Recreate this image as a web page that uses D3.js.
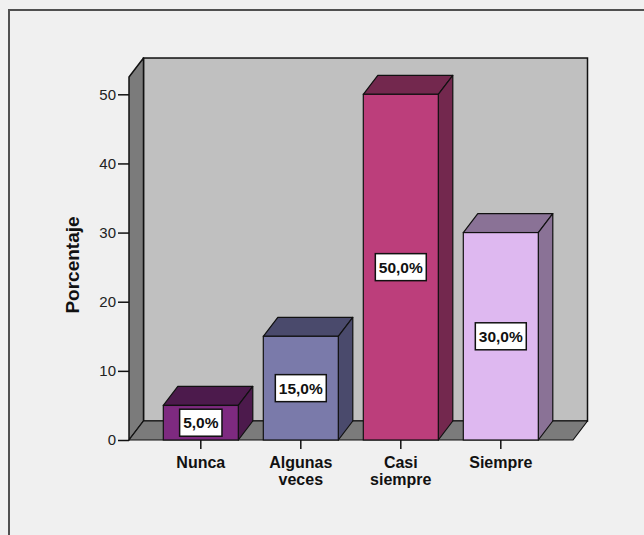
<!DOCTYPE html>
<html>
<head>
<meta charset="utf-8">
<script src="https://cdn.jsdelivr.net/npm/d3@7/dist/d3.min.js"></script>
<style>
  html, body { margin: 0; padding: 0; background: #f0f0f0; }
  svg { display: block; }
  text { font-family: "Liberation Sans", Arial, sans-serif; }
</style>
</head>
<body>
<svg id="chart" width="644" height="535"></svg>
<script>
// Response categories and their percentages
const categories = ["Nunca", "Algunas veces", "Casi siempre", "Siempre"];
const percentages = [5, 15, 50, 30];
const yTicks = [0, 10, 20, 30, 40, 50];
const frontColors = ["#7e2a80", "#7a7aaa", "#bc3e7b", "#deb8f0"];
const sideColors  = ["#4c1a4c", "#4a4a6c", "#73284e", "#8a7296"];
const yTitle = "Porcentaje";

const svg = d3.select("#chart");
const W = 644, H = 535;

// Outer panel frame
svg.append("rect").attr("x", 0).attr("y", 0).attr("width", W).attr("height", H).attr("fill", "#f0f0f0");
svg.append("path")
  .attr("d", `M9,${H + 2} L9,10 L${W + 2},10`)
  .attr("fill", "none").attr("stroke", "#505050").attr("stroke-width", 2);

// Plot geometry
const x0 = 129, x1 = 573;       // floor front edge
const baseY = 440;
const dx = 14.5, dy = -19;      // depth offset for the 3D look

const y = d3.scaleLinear().domain([0, 50]).range([baseY, 94.3]);
const yTop = y(52.5);

const x = d3.scaleBand()
  .domain(categories)
  .range([150.8, 550.8])
  .paddingInner(0.25)
  .paddingOuter(0.125);

const g = svg.append("g");

// Back wall
g.append("rect")
  .attr("x", x0 + dx).attr("y", yTop + dy)
  .attr("width", x1 - x0).attr("height", baseY - yTop)
  .attr("fill", "#c0c0c0").attr("stroke", "#111").attr("stroke-width", 1.5);

// Left wall
g.append("path")
  .attr("d", `M${x0},${baseY} L${x0},${yTop} L${x0 + dx},${yTop + dy} L${x0 + dx},${baseY + dy} Z`)
  .attr("fill", "#7b7b7b").attr("stroke", "#111").attr("stroke-width", 1.5).attr("stroke-linejoin", "round");

// Floor
g.append("path")
  .attr("d", `M${x0},${baseY} L${x1},${baseY} L${x1 + dx},${baseY + dy} L${x0 + dx},${baseY + dy} Z`)
  .attr("fill", "#7b7b7b").attr("stroke", "#111").attr("stroke-width", 1.2).attr("stroke-linejoin", "round");

// Y axis
const yAxis = d3.axisLeft(y).tickValues(yTicks).tickSize(11).tickPadding(2);
const ya = g.append("g").attr("transform", `translate(${x0},0)`).call(yAxis);
ya.select(".domain").remove();
ya.selectAll(".tick line").attr("stroke", "#111").attr("stroke-width", 1.5);
ya.selectAll(".tick text").attr("font-size", 15).attr("fill", "#222")
  .style("font-family", "'Liberation Sans', Arial, sans-serif");

// X axis
const xAxis = d3.axisBottom(x).tickSize(9).tickFormat("");
const xa = g.append("g").attr("transform", `translate(0,${baseY})`).call(xAxis);
xa.select(".domain").remove();
xa.selectAll(".tick line").attr("stroke", "#111").attr("stroke-width", 1.5);

// Category labels, one word per line
const catLabels = g.append("g");
categories.forEach(c => {
  const t = catLabels.append("text")
    .attr("x", x(c) + x.bandwidth() / 2)
    .attr("y", 468)
    .attr("text-anchor", "middle")
    .attr("font-size", 16).attr("font-weight", "bold").attr("fill", "#111");
  c.split(" ").forEach((w, i) => {
    t.append("tspan").attr("x", x(c) + x.bandwidth() / 2).attr("dy", i === 0 ? 0 : 16.5).text(w);
  });
});

// Y axis title
g.append("text")
  .attr("transform", `translate(79,265) rotate(-90)`)
  .attr("text-anchor", "middle")
  .attr("font-size", 19).attr("font-weight", "bold").attr("fill", "#111")
  .text(yTitle);

// 3D bars
const data = categories.map((c, i) => ({ c, v: percentages[i], i }));
const bars = g.append("g").selectAll("g").data(data).join("g");

bars.append("path") // top face
  .attr("d", d => {
    const a = x(d.c), b = a + x.bandwidth(), t = y(d.v);
    return `M${a},${t} L${a + dx},${t + dy} L${b + dx},${t + dy} L${b},${t} Z`;
  })
  .attr("fill", d => sideColors[d.i]).attr("stroke", "#111").attr("stroke-width", 1.2).attr("stroke-linejoin", "round");

bars.append("path") // side face
  .attr("d", d => {
    const b = x(d.c) + x.bandwidth(), t = y(d.v);
    return `M${b},${t} L${b + dx},${t + dy} L${b + dx},${baseY + dy} L${b},${baseY} Z`;
  })
  .attr("fill", d => sideColors[d.i]).attr("stroke", "#111").attr("stroke-width", 1.2).attr("stroke-linejoin", "round");

bars.append("rect") // front face
  .attr("x", d => x(d.c)).attr("y", d => y(d.v))
  .attr("width", x.bandwidth()).attr("height", d => baseY - y(d.v))
  .attr("fill", d => frontColors[d.i]).attr("stroke", "#111").attr("stroke-width", 1.2);

// Value labels in white boxes
const locale = d3.formatLocale({ decimal: ",", thousands: ".", grouping: [3], currency: ["", "€"] });
const fmt = v => locale.format(".1f")(v) + "%";

bars.each(function (d) {
  const gg = d3.select(this);
  const cx = x(d.c) + x.bandwidth() / 2;
  const cy = (y(d.v) + baseY) / 2;
  const txt = gg.append("text")
    .attr("x", cx).attr("y", cy + 5.5)
    .attr("text-anchor", "middle")
    .attr("font-size", 15.5).attr("font-weight", "bold").attr("fill", "#111")
    .text(fmt(d.v));
  const w = txt.node().getComputedTextLength() + 7;
  gg.insert("rect", "text")
    .attr("x", cx - w / 2).attr("y", cy - 13.5)
    .attr("width", w).attr("height", 27)
    .attr("fill", "#fff").attr("stroke", "#111").attr("stroke-width", 1.5);
});
</script>
</body>
</html>
